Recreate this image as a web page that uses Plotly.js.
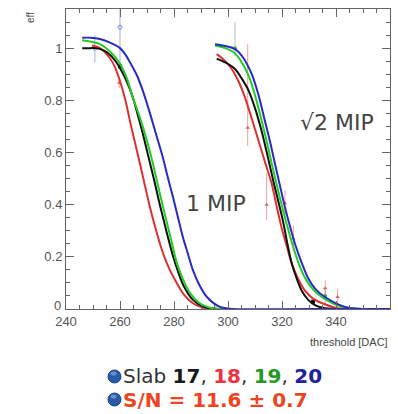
<!DOCTYPE html>
<html>
<head>
<meta charset="utf-8">
<script src="https://cdn.plot.ly/plotly-3.0.1.min.js"></script>
<style>html,body{margin:0;padding:0;background:#fff;}#chart{width:398px;height:414px;}</style>
</head>
<body>
<div id="chart"></div>
<script>
// ---- data (threshold [DAC] vs efficiency) ----
// 1 MIP curves
const mip1RedX   = [249.6, 252.6, 256, 258, 260, 262, 263.7, 265.5, 267.4, 269.3, 271.1, 273, 274.8, 276.6, 278.5, 281, 283.3, 287, 290.5, 296];
const mip1RedY   = [1.01, 1.0, 0.965, 0.93, 0.874, 0.8, 0.72, 0.64, 0.557, 0.47, 0.39, 0.315, 0.25, 0.195, 0.149, 0.1, 0.06, 0.022, 0.006, 0];
const mip1BlackX = [246, 249, 251, 253, 255, 258, 261, 263, 264.8, 266.7, 268.5, 270.5, 272.5, 274.4, 276.3, 278, 279.7, 281.6, 283.5, 287, 291, 296];
const mip1BlackY = [1.0, 1.0, 1.0, 0.995, 0.985, 0.955, 0.905, 0.86, 0.81, 0.74, 0.67, 0.585, 0.5, 0.415, 0.335, 0.265, 0.2, 0.14, 0.09, 0.035, 0.008, 0];
const mip1GreenX = [246, 249, 252.6, 256.5, 260, 262.5, 264.8, 267.5, 270, 272, 273.7, 275.5, 277.4, 279.3, 281.1, 283.5, 286, 289.5, 293, 298];
const mip1GreenY = [1.03, 1.025, 1.015, 0.985, 0.94, 0.885, 0.81, 0.73, 0.645, 0.565, 0.49, 0.41, 0.33, 0.25, 0.175, 0.11, 0.06, 0.022, 0.006, 0];
const mip1BlueX  = [246, 249, 252.6, 256.5, 260, 262, 264, 266.3, 268.5, 271.1, 273.5, 275.9, 277.7, 279.6, 281.5, 283.3, 285.2, 287, 289.5, 292.2, 297, 302, 330, 360];
const mip1BlueY  = [1.04, 1.04, 1.035, 1.02, 1.0, 0.975, 0.94, 0.895, 0.835, 0.75, 0.665, 0.58, 0.505, 0.43, 0.35, 0.275, 0.21, 0.149, 0.09, 0.046, 0.008, 0, 0, 0];
// sqrt(2) MIP curves
const mip2RedX   = [295.8, 298.5, 301.4, 304, 306.3, 308.8, 311.3, 313.8, 316.2, 318, 319.9, 321.8, 323.6, 326, 328.5, 331.5, 334.7, 340.7, 346];
const mip2RedY   = [0.977, 0.955, 0.92, 0.87, 0.81, 0.73, 0.645, 0.56, 0.48, 0.395, 0.31, 0.24, 0.175, 0.115, 0.07, 0.04, 0.023, 0.003, 0];
const mip2BlackX = [295.8, 299, 302.6, 305, 307.5, 310, 312.5, 314.7, 316.8, 318.7, 320.5, 322, 323.6, 325.5, 327.3, 329.7, 332.2, 336, 342];
const mip2BlackY = [0.96, 0.945, 0.92, 0.885, 0.84, 0.77, 0.68, 0.585, 0.49, 0.41, 0.33, 0.25, 0.175, 0.115, 0.07, 0.035, 0.015, 0.003, 0];
const mip2GreenX = [295.2, 299, 302, 304.5, 307.4, 310, 312.5, 314.4, 316.2, 318.2, 320.1, 322, 323.8, 326, 328.5, 331.5, 334.7, 342.1, 350];
const mip2GreenY = [1.01, 1.0, 0.985, 0.955, 0.90, 0.82, 0.72, 0.64, 0.557, 0.47, 0.39, 0.315, 0.25, 0.18, 0.12, 0.075, 0.046, 0.008, 0];
const mip2BlueX  = [295.2, 299, 302.6, 305.5, 308.8, 311.3, 313.7, 315.6, 317.4, 319.3, 321.1, 323, 324.8, 327.2, 329.6, 332.5, 335.9, 343.3, 350, 360];
const mip2BlueY  = [1.015, 1.008, 0.996, 0.965, 0.90, 0.82, 0.72, 0.64, 0.557, 0.47, 0.39, 0.315, 0.25, 0.18, 0.12, 0.075, 0.046, 0.008, 0, 0];
// a few visible measured points with error bars
const ptRedX = [259.7, 307.3, 314.3, 321.1, 324.2, 336, 340.6];
const ptRedY = [0.867, 0.695, 0.40, 0.405, 0.27, 0.08, 0.046];
const ptRedErrUp = [0.02, 0.32, 0.12, 0.05, 0.05, 0.03, 0.03];
const ptRedErrDn = [0.02, 0.07, 0.06, 0.05, 0.05, 0.03, 0.03];
const ptBlueX = [250.7, 260];
const ptBlueY = [1.0, 1.08];
const ptBlueErrUp = [0.05, 0.08];
const ptBlueErrDn = [0.055, 0.14];
const ptGreenX = [302.6, 336];
const ptGreenY = [1.0, 0.05];
const ptGreenErrUp = [0.10, 0.03];
const ptGreenErrDn = [0.03, 0.03];
const ptBlackX = [260, 331.5];
const ptBlackY = [0.93, 0.028];

const xTicks = [240, 260, 280, 300, 320, 340, 360];
const yTicks = [0, 0.2, 0.4, 0.6, 0.8, 1];
const yTickText = ['', '0.2', '0.4', '0.6', '0.8', '1'];   // '0' is drawn as a nudged label below
const yZeroLabel = '0';

const RED = '#dd3030', BLACK = '#111111', GREEN = '#22cc22', BLUE = '#2a2ac0';

function curve(x, y, color) {
  return {x: x, y: y, type: 'scatter', mode: 'lines',
          line: {color: color, width: 2, shape: 'spline', smoothing: 0.8},
          hoverinfo: 'skip', showlegend: false};
}
function pts(x, y, up, dn, color, barColor, symbol) {
  const t = {x: x, y: y, type: 'scatter', mode: 'markers',
             marker: {color: color, size: 4, symbol: symbol},
             showlegend: false, hoverinfo: 'skip'};
  if (up) t.error_y = {type: 'data', symmetric: false, array: up, arrayminus: dn,
                       color: barColor, thickness: 1, width: 0};
  return t;
}

const data = [
  pts(ptRedX, ptRedY, ptRedErrUp, ptRedErrDn, '#e06060', 'rgba(220,80,80,0.55)', 'triangle-up'),
  pts(ptGreenX, ptGreenY, ptGreenErrUp, ptGreenErrDn, '#55aa55', 'rgba(120,150,120,0.55)', 'circle'),
  pts(ptBlueX, ptBlueY, ptBlueErrUp, ptBlueErrDn, '#7a8fd8', 'rgba(100,120,200,0.6)', 'circle-open'),
  pts(ptBlackX, ptBlackY, null, null, BLACK, null, 'square'),
  curve(mip1RedX, mip1RedY, RED),
  curve(mip2RedX, mip2RedY, RED),
  curve(mip1BlackX, mip1BlackY, BLACK),
  curve(mip2BlackX, mip2BlackY, BLACK),
  curve(mip1GreenX, mip1GreenY, GREEN),
  curve(mip2GreenX, mip2GreenY, GREEN),
  curve(mip1BlueX, mip1BlueY, BLUE),
  curve(mip2BlueX, mip2BlueY, BLUE)
];

const tickFont = {family: 'Liberation Sans, Arial, sans-serif', size: 13, color: '#555'};
const axisCommon = {
  showgrid: false, zeroline: false, showline: true, linecolor: '#666', linewidth: 1,
  ticks: 'inside', ticklen: 8, tickcolor: '#666', tickwidth: 1, mirror: 'allticks',
  tickfont: tickFont
};

const layout = {
  width: 398, height: 414,
  margin: {l: 66, r: 8, t: 9, b: 105},
  paper_bgcolor: '#ffffff', plot_bgcolor: '#ffffff',
  showlegend: false,
  xaxis: Object.assign({}, axisCommon, {
    range: [240, 360], tickvals: xTicks,
    minor: {dtick: 5, tick0: 240, ticks: 'inside', ticklen: 4, tickcolor: '#666'}
  }),
  yaxis: Object.assign({}, axisCommon, {
    range: [0, 1.15], tickvals: yTicks, ticktext: yTickText,
    minor: {dtick: 0.05, tick0: 0, ticks: 'inside', ticklen: 4, tickcolor: '#666'}
  }),
  annotations: [
    {text: yZeroLabel, xref: 'paper', yref: 'paper', x: -0.012, y: 0.013,
     xanchor: 'right', yanchor: 'middle', showarrow: false, borderpad: 0, font: tickFont},
    {text: 'eff', xref: 'paper', yref: 'paper', x: -0.111, y: 0.995, textangle: -90,
     xanchor: 'center', yanchor: 'top', showarrow: false,
     font: {family: 'Liberation Sans, Arial, sans-serif', size: 10, color: '#444'}},
    {text: 'threshold [DAC]', xref: 'paper', yref: 'paper', x: 1.0, y: -0.11,
     xanchor: 'right', yanchor: 'middle', showarrow: false,
     font: {family: 'Liberation Sans, Arial, sans-serif', size: 11, color: '#444'}},
    {text: '1 MIP', xref: 'x', yref: 'y', x: 295.6, y: 0.405, showarrow: false,
     xanchor: 'center', yanchor: 'middle',
     font: {family: 'DejaVu Sans, sans-serif', size: 22, color: '#444'}},
    {text: '\u221A2 MIP', xref: 'x', yref: 'y', x: 340.4, y: 0.714, showarrow: false,
     xanchor: 'center', yanchor: 'middle',
     font: {family: 'DejaVu Sans, sans-serif', size: 22, color: '#444'}},
    {text: 'Slab <b style="color:#1a1a1a">17</b>, <b><span style="color:#ee3344">18</span></b>, ' +
           '<b><span style="color:#229922">19</span></b>, <b><span style="color:#22229a">20</span></b>',
     xref: 'paper', yref: 'paper', x: 0.170, y: -0.2233, xanchor: 'left', yanchor: 'middle',
     showarrow: false, font: {family: 'DejaVu Sans, sans-serif', size: 20, color: '#333'}},
    {text: '<b>S/N = 11.6 \u00B1 0.7</b>', xref: 'paper', yref: 'paper', x: 0.170, y: -0.3033,
     xanchor: 'left', yanchor: 'middle', showarrow: false,
     font: {family: 'DejaVu Sans, sans-serif', size: 20, color: '#ee4422'}}
  ],
  shapes: [
    {type: 'circle', xref: 'paper', yref: 'paper', x0: 0.1296, x1: 0.1698, y0: -0.2467, y1: -0.2033,
     fillcolor: '#2a5aa6', line: {color: '#1d4488', width: 1}},
    {type: 'circle', xref: 'paper', yref: 'paper', x0: 0.138, x1: 0.156, y0: -0.222, y1: -0.208,
     fillcolor: '#8fb3e6', opacity: 0.6, line: {width: 0}},
    {type: 'circle', xref: 'paper', yref: 'paper', x0: 0.1296, x1: 0.1698, y0: -0.3233, y1: -0.28,
     fillcolor: '#2a5aa6', line: {color: '#1d4488', width: 1}},
    {type: 'circle', xref: 'paper', yref: 'paper', x0: 0.138, x1: 0.156, y0: -0.299, y1: -0.285,
     fillcolor: '#8fb3e6', opacity: 0.6, line: {width: 0}}
  ]
};

Plotly.newPlot('chart', data, layout, {displayModeBar: false, staticPlot: true});
</script>
</body>
</html>
